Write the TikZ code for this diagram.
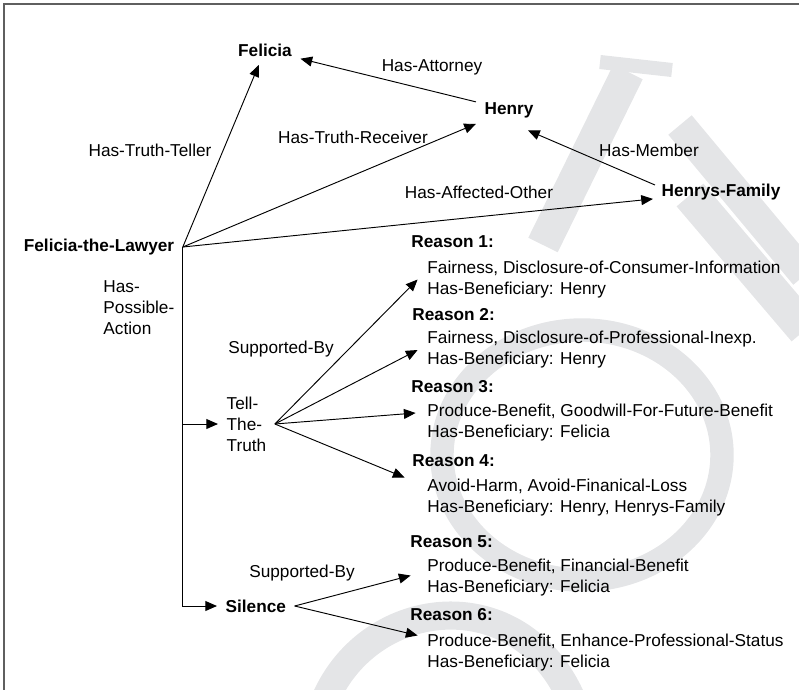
\documentclass[tikz,border=0pt]{standalone}
\usepackage{fontspec}
\setmainfont{Liberation Sans}
\usetikzlibrary{arrows.meta,calc,positioning}
\definecolor{wmgray}{RGB}{228,229,231}
\definecolor{framegray}{RGB}{95,95,95}
\newcommand\diagfont{\fontsize{14.7pt}{17.9pt}\selectfont}
\tikzset{
  entity/.style={font=\diagfont\bfseries,inner sep=7pt},
  rlabel/.style={font=\diagfont,inner sep=0pt},
  action/.style={font=\diagfont,align=left,inner sep=7pt},
  rhead/.style={font=\diagfont\bfseries,anchor=west,inner sep=0pt},
  rbody/.style={font=\diagfont,align=left,anchor=west,inner xsep=8pt,inner ysep=0pt},
  wmark/.style={draw=wmgray,line cap=butt}
}

\begin{document}
\begin{tikzpicture}[x=0.03cm,y=-0.03cm,>={Triangle[length=10pt,width=8.5pt]},line width=0.8pt]
  \useasboundingbox (0,0) rectangle (799,690);

  % watermark
  \begin{scope}
    \clip (0,0) rectangle (799,690);
    \draw[wmark,line width=20pt] (582,455) ellipse [x radius=140,y radius=125];
    \draw[wmark,line width=24pt] (325,700) .. controls (370,595) and (520,580) .. (572,700);
    \draw[wmark,line width=28pt] (628,72) -- (543,245);
    \draw[wmark,line width=12pt] (600,62) -- (672,70);
    \draw[wmark,line width=26pt] (680,125) -- (805,275);
    \draw[wmark,line width=30pt] (690,195) -- (805,330);
  \end{scope}
  \draw[framegray,line width=1.3pt] (4,690) -- (4,4) -- (799,4);

  \node[entity] (felicia) at (265,50) {Felicia};
  \node[entity] (henry) at (509,110) {Henry};
  \node[entity] (hfamily) at (721,192) {Henrys-Family};
  \node[entity] (lawyer) at (99,247) {Felicia-the-Lawyer};
  \node[action,anchor=west] (tell) at (218,424) {Tell-\\The-\\Truth};
  \node[entity,anchor=west] (silence) at (217,606) {Silence};

  \node[rlabel] (lteller) at (150,150) {Has-Truth-Teller};
  \node[rlabel] (lreceiver) at (353,137) {Has-Truth-Receiver};
  \node[rlabel] (lattorney) at (432,67) {Has-Attorney};
  \node[rlabel] (lmember) at (649,150) {Has-Member};
  \node[rlabel] (laffected) at (479,192) {Has-Affected-Other};
  \node[rlabel,align=left,anchor=west] (laction) at (103,308) {Has-\\Possible-\\Action};
  \node[rlabel] (lsupport1) at (281,349) {Supported-By};
  \node[rlabel] (lsupport2) at (302,573) {Supported-By};

  \node[rhead] (r1h) at (411,242) {Reason 1:};
  \node[rbody] (r1) at (417.6,279.5) {Fairness, Disclosure-of-Consumer-Information\\Has-Beneficiary: Henry};
  \node[rhead] (r2h) at (412,315) {Reason 2:};
  \node[rbody] (r2) at (417.6,350) {Fairness, Disclosure-of-Professional-Inexp.\\Has-Beneficiary: Henry};
  \node[rhead] (r3h) at (411,387) {Reason 3:};
  \node[rbody] (r3) at (417.6,423) {Produce-Benefit, Goodwill-For-Future-Benefit\\Has-Beneficiary: Felicia};
  \node[rhead] (r4h) at (412,461) {Reason 4:};
  \node[rbody] (r4) at (417.6,497.5) {Avoid-Harm, Avoid-Finanical-Loss\\Has-Beneficiary: Henry, Henrys-Family};
  \node[rhead] (r5h) at (410,542) {Reason 5:};
  \node[rbody] (r5) at (417.6,577.5) {Produce-Benefit, Financial-Benefit\\Has-Beneficiary: Felicia};
  \node[rhead] (r6h) at (410,615) {Reason 6:};
  \node[rbody] (r6) at (417.6,652.5) {Produce-Benefit, Enhance-Professional-Status\\Has-Beneficiary: Felicia};

  \draw[->] (lawyer.east) -- (felicia);
  \draw[->] (lawyer.east) -- (henry);
  \draw[->] (lawyer.east) -- (hfamily);
  \draw[->] (henry) -- (felicia);
  \draw[->] ([shift={(2,-7)}]hfamily.west) -- ([shift={(19,4)}]henry.south);

  \draw[->] (lawyer.east) |- (silence.west);
  \draw[->] (lawyer.east |- tell.west) -- (tell.west);

  \draw[->] (tell.east) -- (r1.west);
  \draw[->] (tell.east) -- (r2.west);
  \draw[->] (tell.east) -- ([shift={(-2,-10)}]r3.west);
  \draw[->] (tell.east) -- ([shift={(-13,-20)}]r4.west);
  \draw[->] (silence.east) -- ([shift={(-7,-2)}]r5.west);
  \draw[->] (silence.east) -- ([shift={(0,-17)}]r6.west);
\end{tikzpicture}
\end{document}
